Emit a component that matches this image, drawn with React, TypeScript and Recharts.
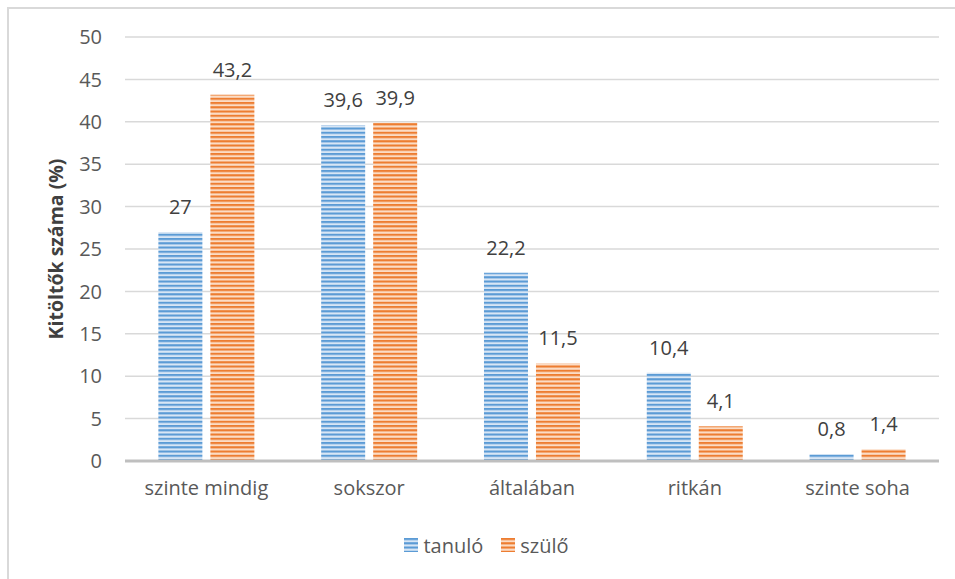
import React from 'react';
import { BarChart, Bar, XAxis, YAxis, CartesianGrid, Legend, LabelList, Label } from 'recharts';

const categories = ['szinte mindig', 'sokszor', 'általában', 'ritkán', 'szinte soha'];
const tanuloValues = [27, 39.6, 22.2, 10.4, 0.8];
const szuloValues = [43.2, 39.9, 11.5, 4.1, 1.4];
const yTicks = [0, 5, 10, 15, 20, 25, 30, 35, 40, 45, 50];

const seriesInfo = [
  { key: 'tanulo', name: 'tanuló', pattern: 'url(#stripesBlue)' },
  { key: 'szulo', name: 'szülő', pattern: 'url(#stripesOrange)' },
];

const data = categories.map((cat, i) => ({
  cat,
  tanulo: tanuloValues[i],
  szulo: szuloValues[i],
}));

const FONT = '"Open Sans", sans-serif';
const fmt = (v: any) => String(v).replace('.', ',');

const StripeDefs = () => (
  <defs>
    <pattern id="stripesBlue" patternUnits="userSpaceOnUse" width={8} height={4.25}>
      <rect x={0} y={0} width={8} height={4.25} fill="#d8e6f5" />
      <rect x={0} y={0} width={8} height={2.1} fill="#5b9bd5" />
    </pattern>
    <pattern id="stripesOrange" patternUnits="userSpaceOnUse" width={8} height={4.25}>
      <rect x={0} y={0} width={8} height={4.25} fill="#fbdcc5" />
      <rect x={0} y={0} width={8} height={2.1} fill="#ed7d31" />
    </pattern>
  </defs>
);

const LegendContent = () => (
  <div style={{ height: 40, display: 'flex', justifyContent: 'center', paddingTop: 4, paddingLeft: 52, boxSizing: 'border-box', fontFamily: FONT, fontSize: 20, color: '#595959' }}>
    {seriesInfo.map((s) => (
      <div key={s.key} style={{ display: 'flex', alignItems: 'center', height: 20, marginRight: 18 }}>
        <svg width={14} height={14} style={{ marginRight: 5 }}>
          <rect width={14} height={14} fill={s.pattern} />
        </svg>
        <span>{s.name}</span>
      </div>
    ))}
  </div>
);

export default function App() {
  return (
    <div style={{ position: 'absolute', left: 0, top: 0, width: 955, height: 579, overflow: 'hidden', background: '#fff' }}>
      <div style={{ position: 'absolute', left: 7, top: 7, width: 1000, height: 1000, border: '2px solid #d9d9d9' }} />
      <div style={{ position: 'absolute', left: 0, top: 0 }}>
        <BarChart
          width={955}
          height={579}
          data={data}
          margin={{ top: 37, right: 16, bottom: 8, left: 0 }}
          barCategoryGap="20.5%"
          barGap={8}
        >
          <StripeDefs />
          <CartesianGrid vertical={false} stroke="#d9d9d9" strokeWidth={1.5} />
          <XAxis
            dataKey="cat"
            height={70}
            axisLine={{ stroke: '#bfbfbf', strokeWidth: 3 }}
            tickLine={false}
            tickSize={0}
            tickMargin={20}
            tick={{ fill: '#595959', fontSize: 20, fontFamily: FONT }}
          />
          <YAxis
            width={125}
            domain={[0, 50]}
            ticks={yTicks}
            axisLine={false}
            tickLine={false}
            tickSize={0}
            tickMargin={23}
            tick={{ fill: '#595959', fontSize: 20, fontFamily: FONT }}
          >
            <Label
              content={({ viewBox }: any) => {
                const cx = 55;
                const cy = viewBox.y + viewBox.height / 2;
                return (
                  <text
                    x={cx}
                    y={cy}
                    transform={`rotate(-90 ${cx} ${cy})`}
                    textAnchor="middle"
                    dominantBaseline="central"
                    fill="#404040"
                    fontSize={19.5}
                    fontWeight="bold"
                    fontFamily={FONT}
                  >
                    Kitöltők száma (%)
                  </text>
                );
              }}
            />
          </YAxis>
          <Legend verticalAlign="bottom" height={40} content={<LegendContent />} />
          {seriesInfo.map((s) => (
            <Bar key={s.key} dataKey={s.key} name={s.name} fill={s.pattern} isAnimationActive={false}>
              <LabelList
                dataKey={s.key}
                position="top"
                offset={18}
                formatter={fmt}
                fill="#404040"
                fontSize={20}
                fontFamily={FONT}
              />
            </Bar>
          ))}
        </BarChart>
      </div>
    </div>
  );
}
